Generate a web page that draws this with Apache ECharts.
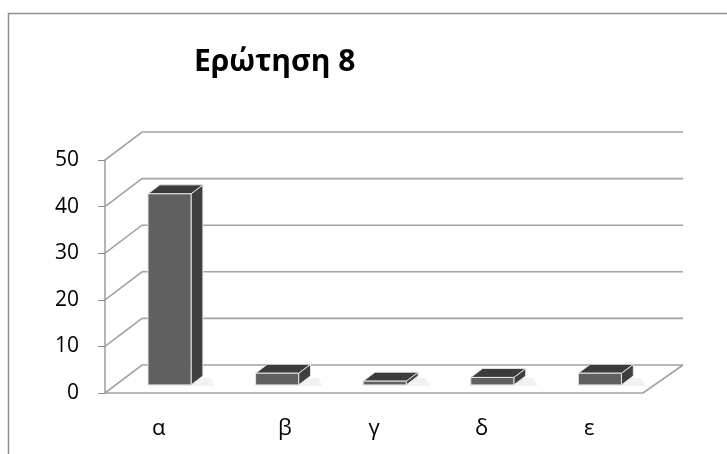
<!DOCTYPE html>
<html>
<head>
<meta charset="utf-8">
<script src="https://cdn.jsdelivr.net/npm/echarts@6/dist/echarts.min.js"></script>
<style>
	html, body { margin: 0; padding: 0; background: #fff; }
	#chart { width: 727px; height: 454px; }
</style>
</head>
<body>
<div id="chart"></div>
<script>
	// data
	var categories = ['α', 'β', 'γ', 'δ', 'ε'];
	var answers = [41, 2.5, 0.8, 1.6, 2.5];
	var yTicks = [0, 10, 20, 30, 40, 50];

	// fake 3d depth of the plot (pixels) and where the bars sit inside it
	var DX = 37, DY = -28;
	var F1 = 0.29, F2 = 0.61;

	var myChart = echarts.init(document.getElementById('chart'));

	/* back walls and floor */
	function renderWalls(params, api) {
		var cs = params.coordSys;
		var left = cs.x, right = cs.x + cs.width;
		var y = api.coord([0, api.value(0)])[1];
		var children = [{
			type: 'polyline',
			shape: { points: [[left, y], [left + DX, y + DY], [right + DX + 3, y + DY]] },
			style: { stroke: '#a3a3a3', lineWidth: 1.6, fill: null }
		}];
		if (api.value(0) === 0) {
			children.push({
				type: 'line',
				shape: { x1: right, y1: y, x2: right + DX + 3, y2: y + DY },
				style: { stroke: '#a3a3a3', lineWidth: 1.6 }
			});
		}
		return { type: 'group', children: children };
	}

	/* one box per category */
	function renderBox(params, api) {
		var base = api.coord([api.value(0), 0]);
		var top = api.coord([api.value(0), api.value(1)]);
		var bw = api.size([1, 0])[0] * 0.4;
		var x0 = base[0] - bw / 2 + DX * F1, x1 = x0 + bw;
		var yb = base[1] + DY * F1, yt = top[1] + DY * F1;
		var dx = DX * (F2 - F1), dy = DY * (F2 - F1);
		var edge = '#e4e4e4';
		return {
			type: 'group',
			children: [{
				// soft shadow on the floor
				type: 'polygon',
				shape: { points: [[x0 - 4, yb + 1], [x1 + dx + 12, yb + 1], [x1 + dx + 8, yb + dy + 2], [x0 + dx, yb + dy + 2]] },
				style: { fill: 'rgba(0,0,0,0.05)', shadowBlur: 8, shadowColor: 'rgba(0,0,0,0.12)' }
			}, {
				type: 'polygon',
				shape: { points: [[x1, yb], [x1 + dx, yb + dy], [x1 + dx, yt + dy], [x1, yt]] },
				style: { fill: '#3f3f3f', stroke: edge, lineWidth: 1 }
			}, {
				type: 'polygon',
				shape: { points: [[x0, yt], [x1, yt], [x1 + dx, yt + dy], [x0 + dx, yt + dy]] },
				style: { fill: '#3b3b3b', stroke: edge, lineWidth: 1 }
			}, {
				type: 'polygon',
				shape: { points: [[x0, yb], [x1, yb], [x1, yt], [x0, yt]] },
				style: { fill: '#606060', stroke: edge, lineWidth: 1 }
			}]
		};
	}

	myChart.setOption({
		animation: false,
		textStyle: { fontFamily: 'Open Sans' },
		title: {
			text: 'Ερώτηση 8',
			left: 189,
			top: 42,
			textStyle: { fontSize: 30, fontWeight: 'bold', color: '#000', fontFamily: 'Open Sans' }
		},
		graphic: [{
			type: 'rect',
			shape: { x: 8.5, y: 13.5, width: 760, height: 480 },
			style: { fill: null, stroke: '#8e8e8e', lineWidth: 1.5 },
			silent: true
		}],
		grid: { left: 105, right: 84, top: 160, bottom: 61 },
		xAxis: {
			type: 'category',
			data: categories,
			axisLine: { lineStyle: { color: '#a3a3a3', width: 1.6 } },
			axisTick: { length: 8, lineStyle: { color: '#8e8e8e' } },
			axisLabel: {
				interval: 0,
				hideOverlap: false,
				margin: 25,
				fontSize: 22,
				color: '#000',
				formatter: function (v) { return v === 'β' ? '{shift|' + v + '}' : v; },
				rich: { shift: { fontSize: 22, color: '#000', padding: [0, 0, 0, 37] } }
			}
		},
		yAxis: {
			type: 'value',
			min: 0,
			max: 50,
			interval: 10,
			axisLine: { show: true, lineStyle: { color: '#a3a3a3', width: 1.6 } },
			axisTick: { show: true, length: 7, lineStyle: { color: '#8e8e8e' } },
			axisLabel: { margin: 26, fontSize: 21, color: '#000' },
			splitLine: { show: false }
		},
		series: [{
			type: 'custom',
			renderItem: renderWalls,
			data: yTicks.map(function (v) { return [v]; }),
			encode: { y: 0 },
			z: 1,
			silent: true
		}, {
			type: 'custom',
			renderItem: renderBox,
			data: answers.map(function (v, i) { return [i, v]; }),
			encode: { x: 0, y: 1 },
			z: 3
		}]
	});
</script>
</body>
</html>
